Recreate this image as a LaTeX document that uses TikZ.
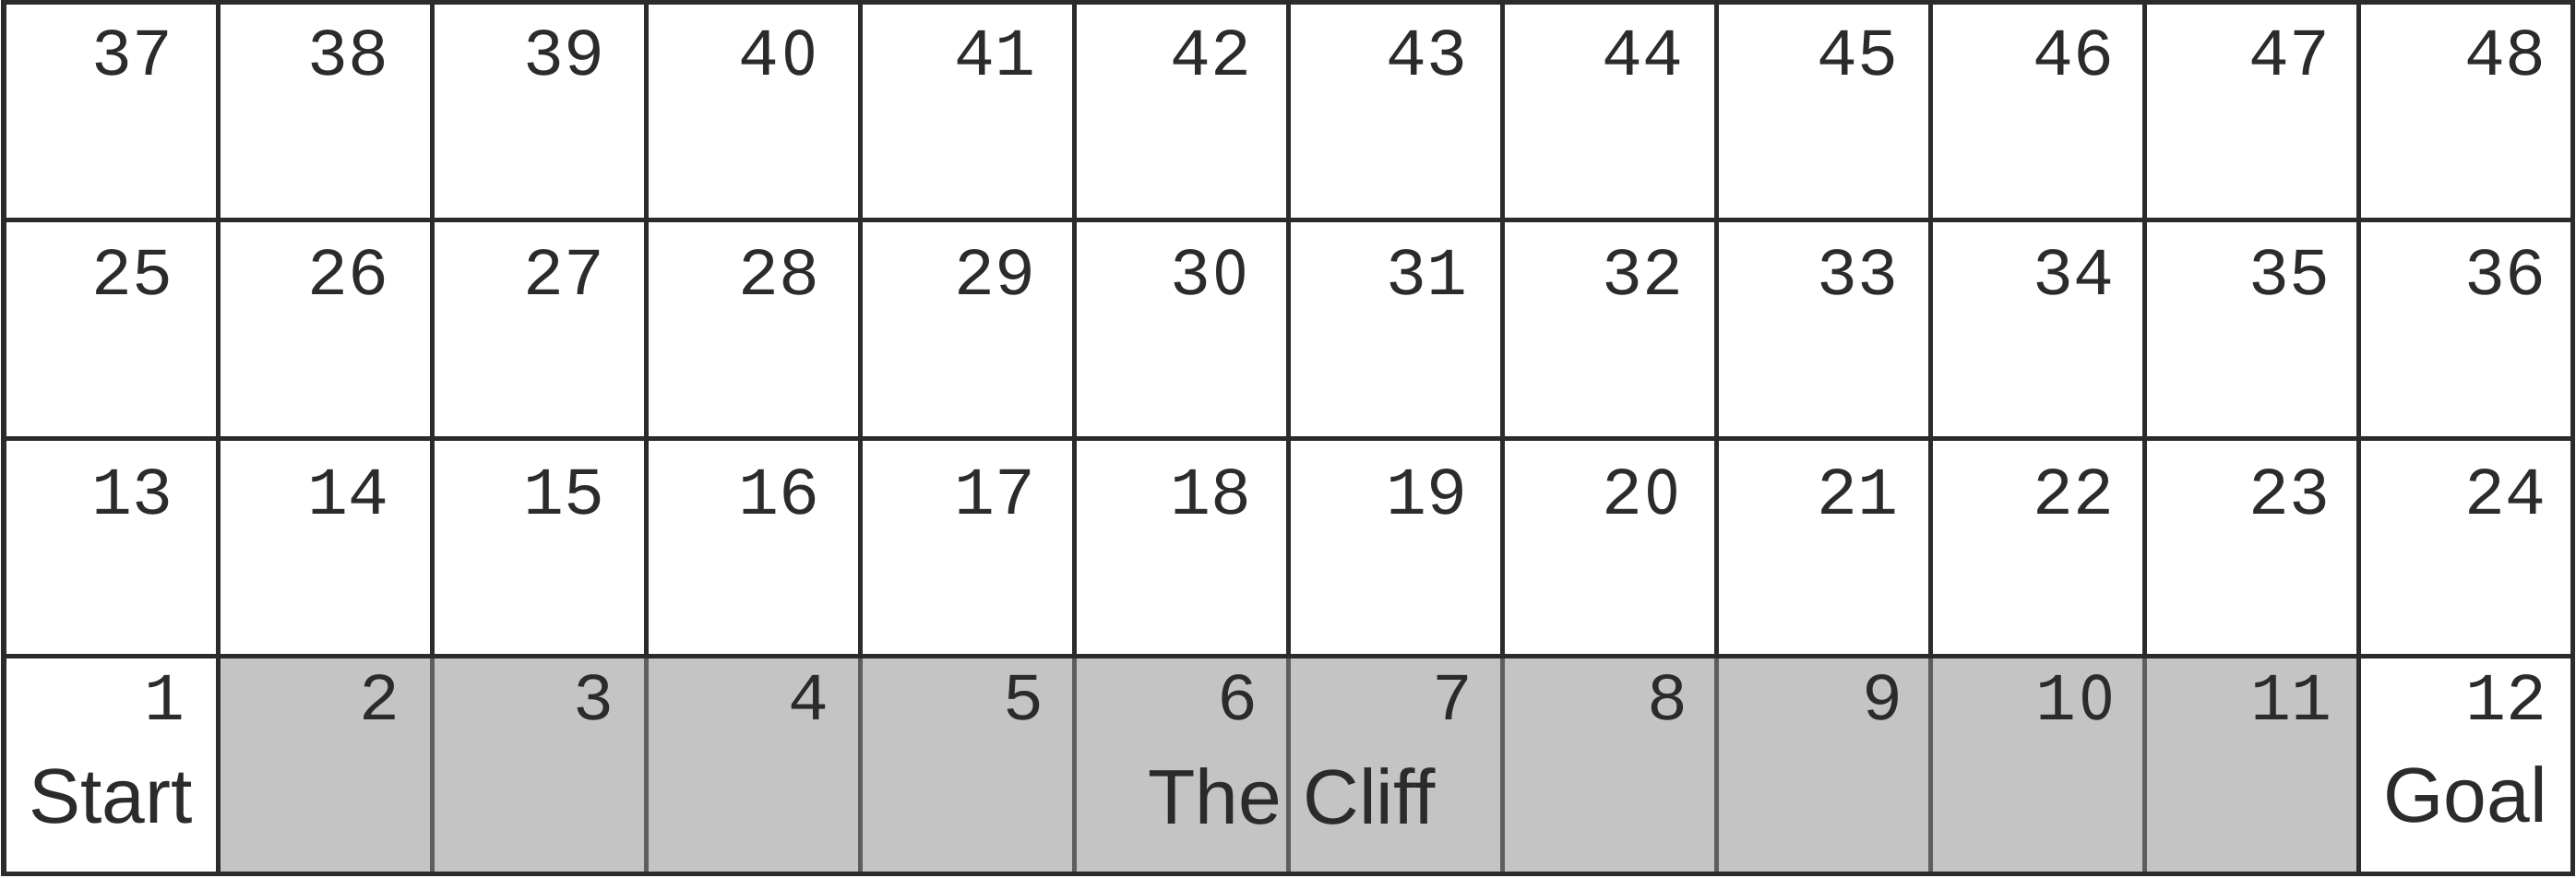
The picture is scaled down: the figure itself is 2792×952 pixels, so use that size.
\documentclass[tikz,border=0pt]{standalone}
\usepackage{graphicx}
\usepackage{fontspec}
\setmainfont{Liberation Sans}
\newfontfamily\monof{Liberation Mono}
\definecolor{ink}{HTML}{2B2B2B}
\definecolor{cliff}{HTML}{C4C4C4}
\definecolor{cliffline}{HTML}{5E5E5E}
\newcommand\zeroglyph{\makebox[0.6em]{\scalebox{0.84}[1]{O}}}
\newcommand\celldig[1]{\ifnum#1=0 \zeroglyph\else#1\fi}
\begin{document}
\begin{tikzpicture}[x=0.01cm,y=-0.01cm,
  gridline/.style={draw=ink,line width=0.05cm},
  cliffsep/.style={draw=cliffline,line width=0.05cm},
  num/.style={font=\monof\fontsize{20.8}{25}\selectfont,text=ink,inner sep=0pt,anchor=base east},
  lab/.style={font=\fontsize{23.9}{28}\selectfont,text=ink,inner sep=0pt,anchor=base}]
\useasboundingbox (0,0) rectangle (2792,952);
\fill[white] (0,0) rectangle (2792,952);
% cliff cells
\fill[cliff] (236,711) rectangle (2556,947);
\foreach \k in {2,...,10} \draw[cliffsep] ({4+232*\k},711) -- ({4+232*\k},947);
% grid
\foreach \r in {1,2,3} \draw[gridline] (4,{3+236*\r}) -- (2788,{3+236*\r});
\foreach \k in {1,...,11} \draw[gridline] ({4+232*\k},3) -- ({4+232*\k},711);
\draw[gridline] (236,711) -- (236,947);
\draw[gridline] (2556,711) -- (2556,947);
\draw[gridline] (4,3) rectangle (2788,947);
% numbers, upper three rows
\foreach \r in {0,1,2} {
  \foreach \k in {1,...,12} {
    \pgfmathtruncatemacro{\n}{12*(3-\r)+\k}
    \pgfmathtruncatemacro{\tens}{int(\n/10)}
    \pgfmathtruncatemacro{\units}{\n-10*\tens}
    \node[num] (n\n) at ({188+233.8*(\k-1)},{82+237.5*\r}) {\celldig{\tens}\celldig{\units}};
  }
}
% numbers, bottom row
\foreach \k in {1,...,9} {
  \node[num] (n\k) at ({201+232.7*(\k-1)},780) {\k};
}
\node[num] (n10) at ({201+232.7*9},780) {1\zeroglyph};
\node[num] (n11) at ({201+232.7*10},780) {11};
\node[num] (n12) at ({201+232.7*11},780) {12};
% labels
\node[lab] (start) at (120,892) {Start};
\node[lab] (cliffl) at (1400,893) {The Cliff};
\node[lab] (goal) at (2672,891) {Goal};
\end{tikzpicture}
\end{document}
